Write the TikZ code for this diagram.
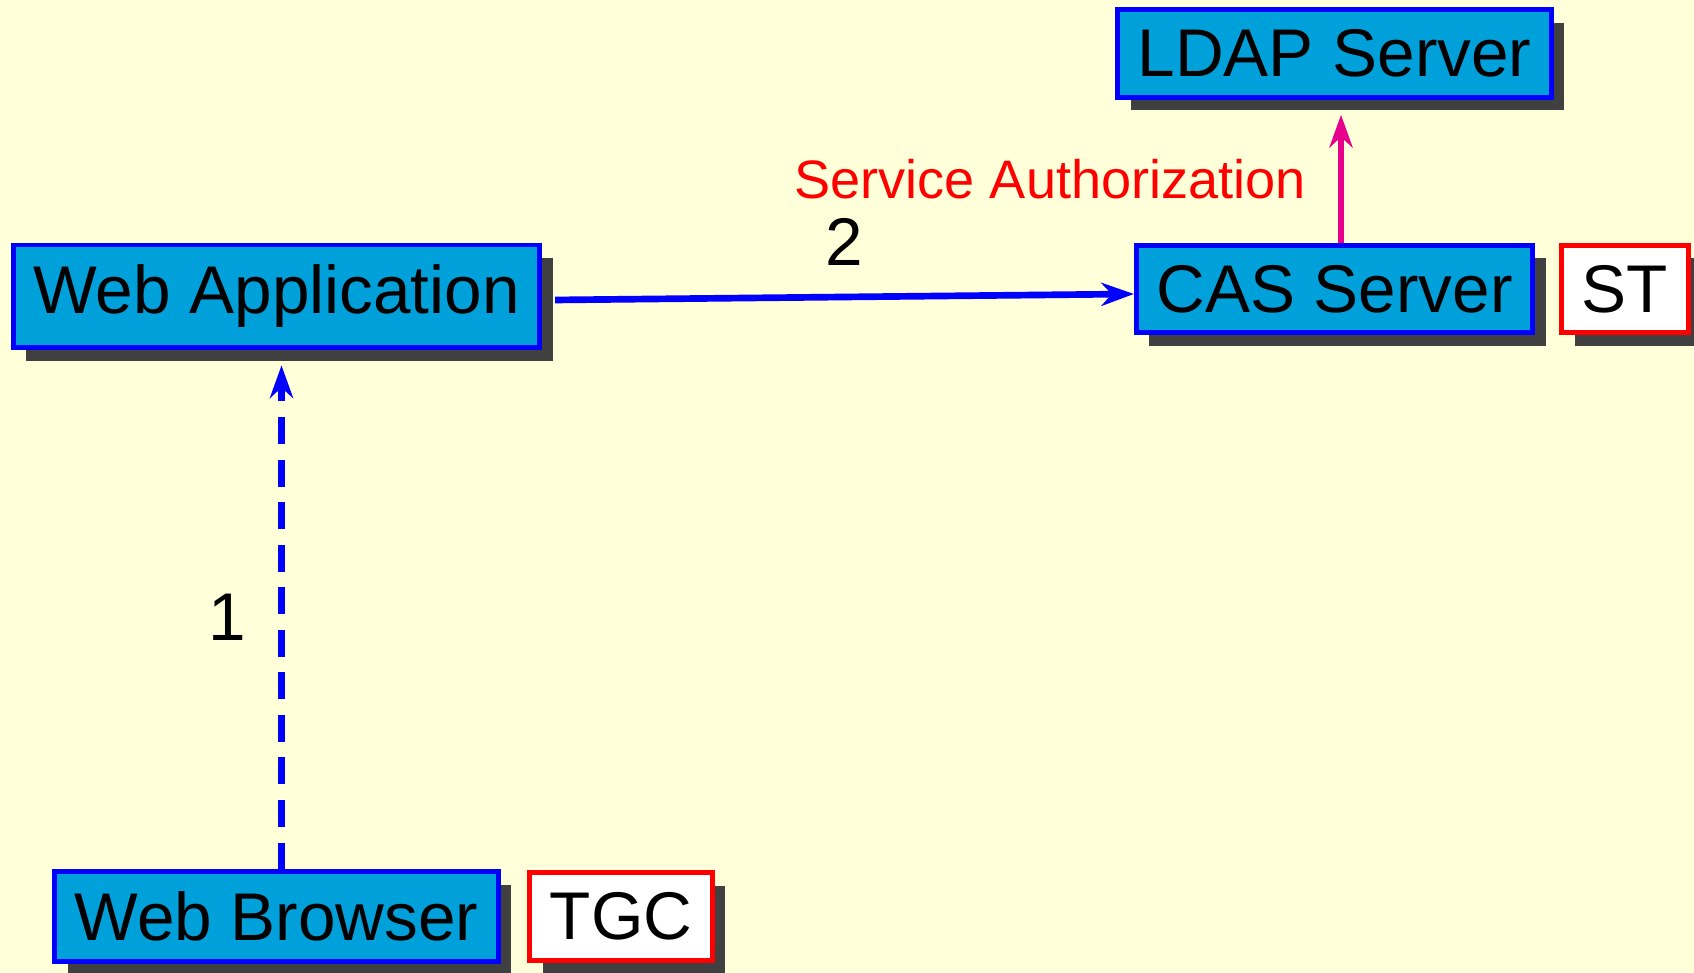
\documentclass[tikz,border=0pt]{standalone}
\usepackage{fontspec}
\setmainfont{Liberation Sans}
\usetikzlibrary{positioning, arrows.meta, shadows}
\definecolor{paper}{RGB}{255,255,217}
\definecolor{boxblue}{RGB}{0,160,218}
\definecolor{shadowgray}{RGB}{64,64,64}
\definecolor{linkpink}{RGB}{230,0,140}
\tikzset{
>={Stealth[length=9.3pt, width=6.6pt, inset=3pt]}, % narrow filled heads
every node/.style={font=\fontsize{19.2}{23}\selectfont},
component/.style={draw=blue, line width=1.4pt, fill=boxblue, inner sep=0.2cm,
  drop shadow={shadow xshift=0.13cm, shadow yshift=-0.13cm, fill=shadowgray, opacity=1}}, % the boxes
token/.style={component, draw=red, fill=white}, % ticket boxes beside a box
flow/.style={->, draw=blue, line width=1.9pt},
}

\begin{document}
\begin{tikzpicture}
\fill[paper] (0,0) rectangle (16.94,9.73);
\useasboundingbox (0,0) rectangle (16.94,9.73);
\node[component] (browser) at (2.765,0.565) {Web Browser};
\node[token, node distance=3.445cm, right of=browser] (tgc) {TGC};
\node[component, node distance=6.2cm, above of=browser] (webapp) {Web Application};
\node[component, node distance=10.58cm, right of=webapp, yshift=0.075cm] (cas) {CAS Server};
\node[token, node distance=2.905cm, right of=cas] (st) {ST};
\node[component, node distance=2.355cm, above of=cas] (ldap) {LDAP Server};
\draw[flow, line width=2.2pt, dash pattern=on 7.6pt off 4.5pt] ([xshift=0.05cm]browser.north) -- node[midway, xshift=-0.545cm] {1} ([xshift=0.05cm, yshift=-0.15cm]webapp.south);
\draw[flow] ([xshift=0.13cm, yshift=-0.035cm]webapp.east) -- node[midway, yshift=0.55cm] {2} ([yshift=-0.05cm]cas.west);
\draw[->, draw=linkpink, line width=1.9pt] ([xshift=0.065cm]cas.north) -- node[midway, left=0.2cm, text=red, font=\fontsize{15.4}{18}\selectfont] {Service Authorization} ([xshift=0.065cm, yshift=-0.15cm]ldap.south);
\end{tikzpicture}
\end{document}
